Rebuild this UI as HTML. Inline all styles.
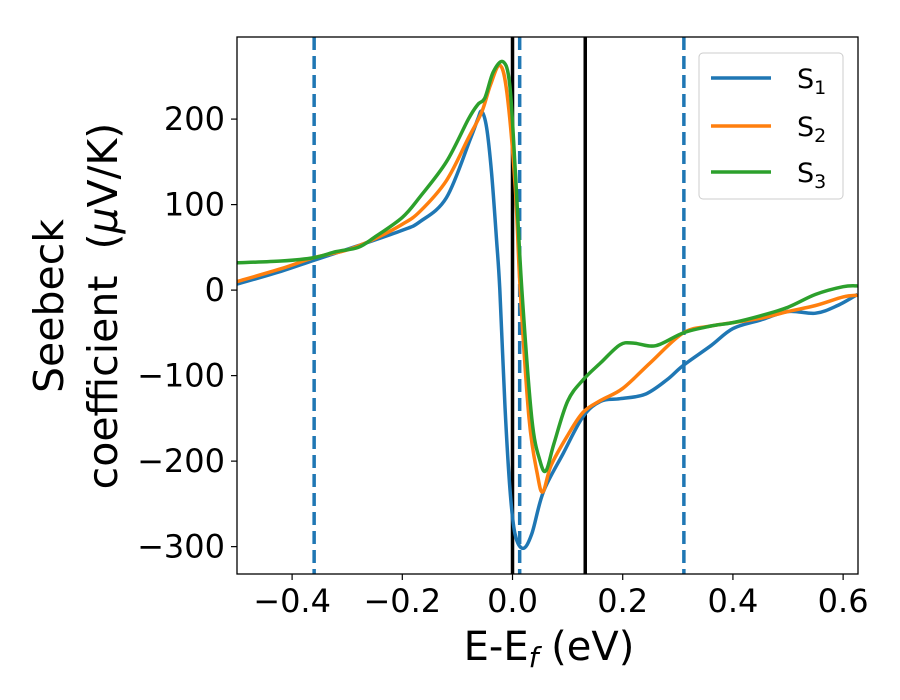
<!DOCTYPE html>
<html><head><meta charset="utf-8"><style>
body{margin:0;background:#fff}
svg{display:block;font-family:"DejaVu Sans","Liberation Sans",sans-serif}
</style></head><body>
<svg id="chart" width="900" height="700" viewBox="0 0 900 700">
<defs><clipPath id="clip"><rect x="237" y="37" width="621" height="537"/></clipPath></defs>
<rect x="0" y="0" width="900" height="700" fill="#fff"/>
<g id="vlines" clip-path="url(#clip)"></g>
<g id="series" clip-path="url(#clip)"></g>
<rect x="237" y="37" width="621" height="537" fill="none" stroke="#000" stroke-width="1.3"/>
<g id="xticks"></g>
<g id="yticks"></g>
<text x="549" y="660" font-size="40" text-anchor="middle">E-E<tspan font-size="28" font-style="italic" dy="7">f</tspan><tspan dy="-7"> (eV)</tspan></text>
<g transform="translate(63,306) rotate(-90)">
<text x="0" y="0" font-size="41" text-anchor="middle">Seebeck</text>
<text x="0" y="54" font-size="41" text-anchor="middle" xml:space="preserve">coefficient  (<tspan font-style="italic">μ</tspan>V/K)</text>
</g>
<g>
<rect x="699" y="53" width="144" height="146" rx="4" fill="#fff" stroke="#ccc" stroke-width="1"/>
<g><line x1="711" y1="78" x2="771" y2="78" stroke="#1f77b4" stroke-width="3.5"/><text x="797" y="88" font-size="27">S<tspan font-size="19" dy="6">1</tspan></text></g>
<g><line x1="711" y1="126" x2="771" y2="126" stroke="#ff7f0e" stroke-width="3.5"/><text x="797" y="136" font-size="27">S<tspan font-size="19" dy="6">2</tspan></text></g>
<g><line x1="711" y1="172" x2="771" y2="172" stroke="#2ca02c" stroke-width="3.5"/><text x="797" y="182" font-size="27">S<tspan font-size="19" dy="6">3</tspan></text></g>
</g>
</svg>
<script>
const xTicks=[-0.4,-0.2,0.0,0.2,0.4,0.6];
const xTickLabels=["\u22120.4","\u22120.2","0.0","0.2","0.4","0.6"];
const yTicks=[200,100,0,-100,-200,-300];
const yTickLabels=["200","100","0","\u2212100","\u2212200","\u2212300"];
const dashedLines=[-0.36,0.013,0.311];
const solidLines=[0.0,0.132];
const s1X=[-0.5,-0.42,-0.36,-0.28,-0.2,-0.168,-0.12,-0.077,-0.063,-0.056,-0.047,-0.038,-0.029,-0.023,-0.0136,-0.0045,0.0045,0.019,0.035,0.056,0.092,0.128,0.16,0.195,0.24,0.28,0.31,0.36,0.4,0.45,0.5,0.55,0.59,0.626];
const s1Y=[7,22,35,52,70,80,108,176,200,209,190,137,59,0,-137,-234,-285,-302,-285,-236,-191,-148,-130,-127,-122,-105,-88,-65,-45,-35,-25,-27,-18,-5];
const s2X=[-0.5,-0.42,-0.36,-0.3,-0.25,-0.2,-0.168,-0.12,-0.08,-0.056,-0.04,-0.023,-0.01,0.005,0.014,0.03,0.045,0.055,0.07,0.1,0.128,0.16,0.2,0.25,0.31,0.36,0.4,0.45,0.5,0.55,0.6,0.626];
const s2Y=[10,25,38,47,60,77,92,128,178,208,240,263,230,120,0,-150,-215,-236,-205,-170,-143,-129,-115,-85,-50,-42,-38,-33,-25,-18,-8,-6];
const s3X=[-0.5,-0.42,-0.36,-0.32,-0.28,-0.25,-0.2,-0.168,-0.12,-0.08,-0.063,-0.05,-0.035,-0.017,-0.005,0.005,0.017,0.035,0.05,0.061,0.075,0.1,0.128,0.16,0.195,0.22,0.26,0.31,0.36,0.4,0.45,0.5,0.55,0.6,0.626];
const s3Y=[32,34,38,45,50,62,85,109,150,200,217,225,255,267,240,140,0,-150,-200,-211,-180,-130,-105,-85,-64,-62,-65,-50,-42,-38,-30,-20,-5,4,5];

const NS="http://www.w3.org/2000/svg";
const xMin=-0.5,xMax=0.627,yMin=-332,yMax=296;
const L=237,R=858,T=37,B=574;
function sx(v){return L+(v-xMin)/(xMax-xMin)*(R-L);}
function sy(v){return B-(v-yMin)/(yMax-yMin)*(B-T);}

const xg=document.getElementById('xticks');
xTicks.forEach((v,i)=>{
  const l=document.createElementNS(NS,'line');
  l.setAttribute('x1',sx(v));l.setAttribute('x2',sx(v));l.setAttribute('y1',B);l.setAttribute('y2',B+6);
  l.setAttribute('stroke','#000');l.setAttribute('stroke-width','1.2');
  
  
  xg.appendChild(l);
  const t=document.createElementNS(NS,'text');
  t.setAttribute('x',sx(v));t.setAttribute('y',B+38);t.setAttribute('font-size','32');t.setAttribute('text-anchor','middle');
  t.textContent=xTickLabels[i];
  
  
  xg.appendChild(t);
});
const yg=document.getElementById('yticks');
yTicks.forEach((v,i)=>{
  const l=document.createElementNS(NS,'line');
  l.setAttribute('x1',L-6);l.setAttribute('x2',L);l.setAttribute('y1',sy(v));l.setAttribute('y2',sy(v));
  l.setAttribute('stroke','#000');l.setAttribute('stroke-width','1.2');
  
  
  yg.appendChild(l);
  const t=document.createElementNS(NS,'text');
  t.setAttribute('x',L-12);t.setAttribute('y',sy(v)+11);t.setAttribute('font-size','32');t.setAttribute('text-anchor','end');
  t.textContent=yTickLabels[i];
  
  
  yg.appendChild(t);
});
const vg=document.getElementById('vlines');
dashedLines.forEach(v=>{
  const l=document.createElementNS(NS,'line');
  l.setAttribute('x1',sx(v));l.setAttribute('x2',sx(v));l.setAttribute('y1',T);l.setAttribute('y2',B);
  l.setAttribute('stroke','#1f77b4');l.setAttribute('stroke-width','3.5');l.setAttribute('stroke-dasharray','13 6');
  
  
  vg.appendChild(l);
});
solidLines.forEach(v=>{
  const l=document.createElementNS(NS,'line');
  l.setAttribute('x1',sx(v));l.setAttribute('x2',sx(v));l.setAttribute('y1',T);l.setAttribute('y2',B);
  l.setAttribute('stroke','#000');l.setAttribute('stroke-width','3.5');
  
  
  vg.appendChild(l);
});
function smoothPath(xs,ys){
  const p=xs.map((x,i)=>[sx(x),sy(ys[i])]);
  let d='M'+p[0][0]+','+p[0][1];
  for(let i=0;i<p.length-1;i++){
    const p0=p[Math.max(0,i-1)],p1=p[i],p2=p[i+1],p3=p[Math.min(p.length-1,i+2)];
    const c1=[p1[0]+(p2[0]-p0[0])/6,p1[1]+(p2[1]-p0[1])/6];
    const c2=[p2[0]-(p3[0]-p1[0])/6,p2[1]-(p3[1]-p1[1])/6];
    d+=' C'+c1[0]+','+c1[1]+' '+c2[0]+','+c2[1]+' '+p2[0]+','+p2[1];
  }
  return d;
}
const sg=document.getElementById('series');
[[s1X,s1Y,'#1f77b4','series-s1'],[s2X,s2Y,'#ff7f0e','series-s2'],[s3X,s3Y,'#2ca02c','series-s3']].forEach(s=>{
  const path=document.createElementNS(NS,'path');
  path.setAttribute('d',smoothPath(s[0],s[1]));
  path.setAttribute('fill','none');path.setAttribute('stroke',s[2]);path.setAttribute('stroke-width','3.5');
  path.setAttribute('stroke-linejoin','round');
  
  
  sg.appendChild(path);
});
</script>
</body></html>
